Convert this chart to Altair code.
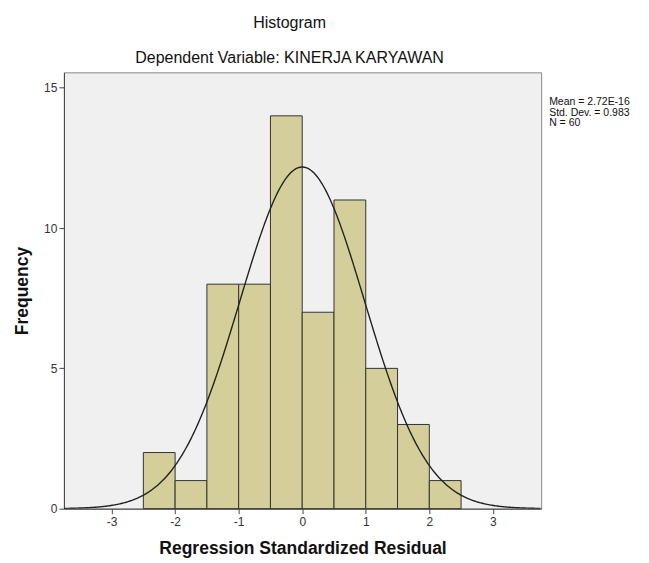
import altair as alt
import pandas as pd

# Histogram bins (regression standardized residual) and counts
bin_start = [-2.5, -2.0, -1.5, -1.0, -0.5, 0.0, 0.5, 1.0, 1.5, 2.0]
bin_end = [-2.0, -1.5, -1.0, -0.5, 0.0, 0.5, 1.0, 1.5, 2.0, 2.5]
counts = [2, 1, 8, 8, 14, 7, 11, 5, 3, 1]

# Summary statistics shown in the chart
MEAN = 2.72e-16
SD = 0.983
N = 60
BIN_WIDTH = 0.5

x_ticks = [-3, -2, -1, 0, 1, 2, 3]
y_ticks = [0, 5, 10, 15]
X_DOMAIN = [-3.75, 3.76]
Y_DOMAIN = [0, 15.55]

FONT = "Liberation Sans"

bars_df = pd.DataFrame({"start": bin_start, "end": bin_end, "count": counts})

x_scale = alt.Scale(domain=X_DOMAIN, nice=False, zero=False)
y_scale = alt.Scale(domain=Y_DOMAIN, nice=False)

x_axis = alt.Axis(
    title="Regression Standardized Residual",
    values=x_ticks,
    labelExpr="'' + datum.value",
    grid=False,
    tickSize=5,
    tickColor="#444444",
    domainColor="#444444",
    labelFont=FONT,
    labelFontSize=12,
    labelColor="#333333",
    labelPadding=3,
    titleFont=FONT,
    titleFontSize=17.5,
    titleFontWeight="bold",
    titleColor="#111111",
    titlePadding=12,
)
y_axis = alt.Axis(
    title="Frequency",
    values=y_ticks,
    labelExpr="'' + datum.value",
    grid=False,
    tickSize=5,
    tickColor="#444444",
    domainColor="#444444",
    labelFont=FONT,
    labelFontSize=12,
    labelColor="#333333",
    labelPadding=2,
    titleFont=FONT,
    titleFontSize=17.5,
    titleFontWeight="bold",
    titleColor="#111111",
    titlePadding=12,
)

bars = alt.Chart(bars_df).mark_bar(
    fill="#d4cf9a", stroke="#333333", strokeWidth=1, opacity=1
).encode(
    x=alt.X("start:Q", scale=x_scale, axis=x_axis),
    x2="end:Q",
    y=alt.Y("count:Q", scale=y_scale, axis=y_axis),
    y2=alt.datum(0),
)

curve = alt.Chart(alt.sequence(X_DOMAIN[0], X_DOMAIN[1], 0.02, as_="x")).transform_calculate(
    y=f"{N} * {BIN_WIDTH} * densityNormal(datum.x, {MEAN}, {SD})"
).mark_line(color="#222222", strokeWidth=1.4, clip=True).encode(
    x=alt.X("x:Q", scale=x_scale),
    y=alt.Y("y:Q", scale=y_scale),
)

stats_lines = ["Mean = 2.72E-16", "Std. Dev. = 0.983", f"N = {N}"]
stats = alt.Chart(pd.DataFrame({"t": [stats_lines]})).mark_text(
    align="left", baseline="top", font=FONT, fontSize=10.5, lineHeight=10.5, color="#111111"
).encode(
    text="t",
    x=alt.value(486),
    y=alt.value(25),
)

chart = alt.layer(bars, curve, stats).properties(
    width=478,
    height=437,
    autosize=alt.AutoSizeParams(type="none"),
    padding={"left": 56, "top": 64, "right": 100, "bottom": 60},
    background="white",
    title=alt.TitleParams(
        text="Histogram",
        subtitle="Dependent Variable: KINERJA KARYAWAN",
        font=FONT,
        fontSize=16,
        fontWeight="normal",
        color="#111111",
        subtitleFont=FONT,
        subtitleFontSize=16,
        subtitleColor="#111111",
        subtitlePadding=19,
        anchor="middle",
        offset=6,
        dx=-13,
    ),
).configure_view(
    fill="#f0f0f0",
    stroke="#888888",
    strokeWidth=1,
)

chart.save("out.html", embed_options={"renderer": "svg", "actions": False})
